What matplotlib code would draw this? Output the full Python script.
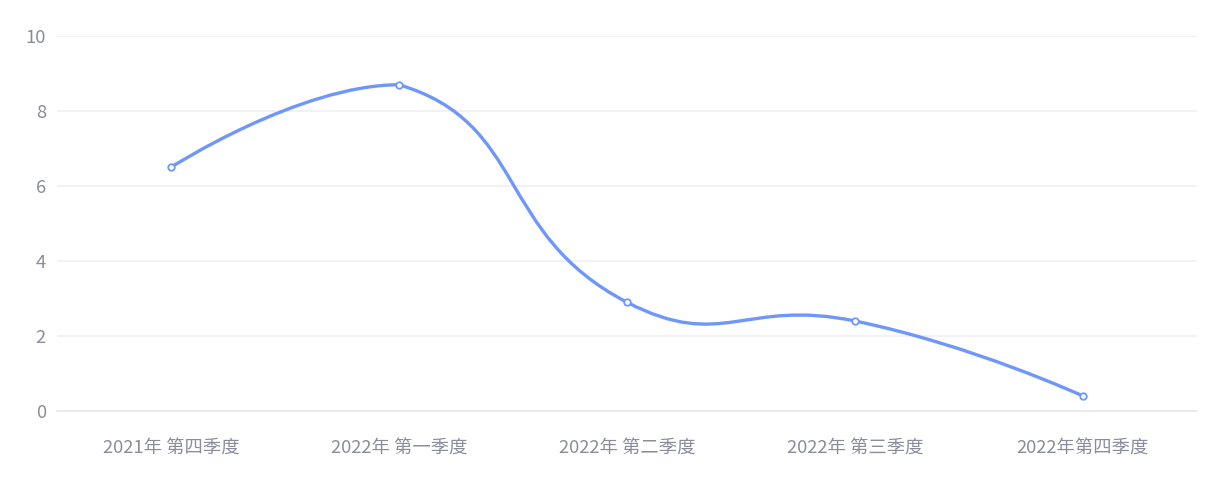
import matplotlib
matplotlib.use("Agg")
import matplotlib.pyplot as plt
from matplotlib.path import Path
from matplotlib.patches import PathPatch
import numpy as np

plt.rcParams['font.family'] = ['Noto Sans CJK SC', 'DejaVu Sans']

# ======================================================
# DATA
# ======================================================
quarters = ["2021年 第四季度", "2022年 第一季度", "2022年 第二季度", "2022年 第三季度", "2022年第四季度"]
values = [6.5, 8.7, 2.9, 2.4, 0.4]

line_color = "#6f97fb"
label_color = "#8a8c9c"
grid_color = "#eef0f4"


def smooth_path(xs, ys, sx, sy, smooth=0.5):
    # catmull-like bezier smoothing (echarts 4 style), in approx. pixel space
    pts = np.column_stack([np.asarray(xs, float) * sx, np.asarray(ys, float) * sy])
    lo, hi = pts.min(axis=0), pts.max(axis=0)
    n = len(pts)
    cps = []
    for i in range(n):
        p = pts[i]
        if i == 0 or i == n - 1:
            cps.append((p.copy(), p.copy()))
            continue
        prv, nxt = pts[i - 1], pts[i + 1]
        v = (nxt - prv) * smooth
        d0 = np.hypot(*(p - prv))
        d1 = np.hypot(*(nxt - p))
        c_in = np.clip(p - v * d0 / (d0 + d1), lo, hi)
        c_out = np.clip(p + v * d1 / (d0 + d1), lo, hi)
        cps.append((c_in, c_out))
    verts = [tuple(pts[0])]
    codes = [Path.MOVETO]
    for i in range(1, n):
        verts += [tuple(cps[i - 1][1]), tuple(cps[i][0]), tuple(pts[i])]
        codes += [Path.CURVE4] * 3
    verts = [(a / sx, b / sy) for a, b in verts]
    return Path(verts, codes)


fig = plt.figure(figsize=(12.25, 4.83), dpi=100)
ax = fig.add_axes([57 / 1225, 72 / 483, 1140 / 1225, 375 / 483])

x = np.arange(len(quarters))
path = smooth_path(list(x), values, 228.0, 37.5)
ax.add_patch(PathPatch(path, facecolor="none", edgecolor=line_color, linewidth=2.4,
                       capstyle="round", joinstyle="round", zorder=3))
ax.scatter(x, values, s=22, facecolor="white", edgecolor=line_color, linewidth=1.3, zorder=4)

ax.set_xlim(-0.5, len(quarters) - 0.5)
ax.set_ylim(0, 10)
ax.set_yticks([0, 2, 4, 6, 8, 10])
ax.set_xticks(x)
ax.set_xticklabels(quarters)

ax.grid(axis="y", color=grid_color, linewidth=1.2)
ax.set_axisbelow(True)
for s in ["top", "right", "left"]:
    ax.spines[s].set_visible(False)
ax.spines["bottom"].set_color("#e6e8ee")
ax.spines["bottom"].set_linewidth(1.2)

ax.tick_params(axis="both", length=0, labelsize=13.2, colors=label_color)
ax.tick_params(axis="y", pad=8)
ax.tick_params(axis="x", pad=20)

fig.savefig("out.png", dpi=100)
